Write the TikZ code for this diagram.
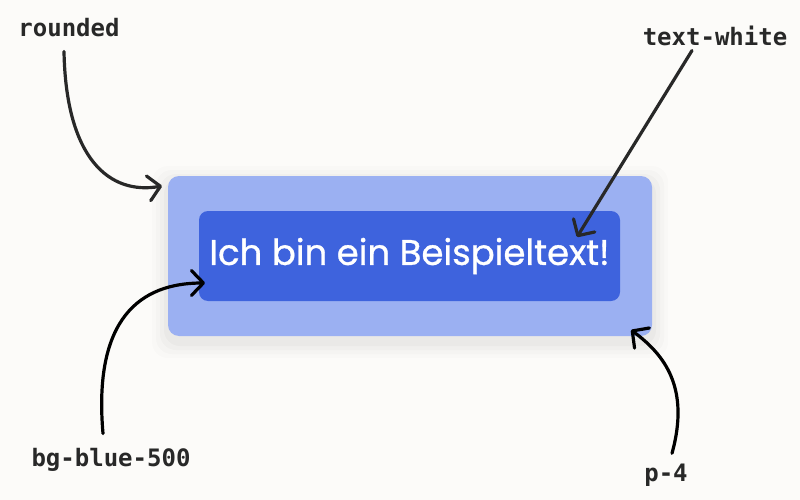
\documentclass[tikz,border=0pt]{standalone}
\usepackage{fontspec}
\setmonofont{DejaVu Sans Mono}
\newfontfamily\boxfont{Poppins}[FakeBold=0.9]
\usetikzlibrary{arrows.meta,positioning}
\definecolor{paper}{RGB}{252,251,249}
\definecolor{padblue}{RGB}{155,176,242}
\definecolor{blue500}{RGB}{62,99,221}
\definecolor{ink}{RGB}{40,40,40}

\begin{document}
\begin{tikzpicture}[
    x=1pt, y=-1pt,
    tag/.style={font=\ttfamily\bfseries\fontsize{24}{24}\selectfont, text=ink, inner sep=0pt, anchor=base},
    pointer/.style={line width=3.2pt, line cap=round, draw=#1,
        -{Straight Barb[length=12pt, width=25pt, line width=3.2pt, round]}},
    pointer/.default=ink,
    haze/.style={fill=black, fill opacity=#1, rounded corners=16pt}
]
% canvas
\fill[paper] (0,0) rectangle (800,500);
\useasboundingbox (0,0) rectangle (800,500);

% soft shadow
\foreach \s/\o in {16/0.012, 12/0.015, 8/0.02, 4/0.025}
    \fill[haze=\o] (168-\s,176-\s+6) rectangle (652+\s,336+\s+6);

% boxes
\node[fill=padblue, rounded corners=11pt, minimum width=484pt, minimum height=160pt]
      (pad) at (410,256) {};
\node[fill=blue500, rounded corners=9pt, minimum width=421pt, minimum height=90pt,
      text=white, font=\boxfont\fontsize{35.5}{35.5}\selectfont]
      (txt) at (409.5,256) {Ich bin ein Beispieltext!};

% labels
\node[tag] (rounded) at (69,37) {rounded};
\node[tag] (white) at (715,46) {text-white};
\node[tag] (bg) at (111,466) {bg-blue-500};
\node[tag] (p4) at (666,481) {p-4};

% arrows
\coordinate (aR) at (162,186);
\coordinate (aW) at (577,237);
\coordinate (aB) at (205,283);
\coordinate (aP) at (631,330);
\draw[pointer] ([xshift=-5pt, yshift=-14pt]rounded.south) .. controls +(2,108) and (110,195) .. (aR);
\draw[pointer] ([xshift=-23pt, yshift=-4pt]white.south) -- (aW);
\draw[pointer=black] ([xshift=-8pt, yshift=14pt]bg.north) .. controls +(-10,-115) and (140,283) .. (aB);
\draw[pointer=black] ([xshift=6pt, yshift=10pt]p4.north) .. controls +(18,-65) and (665,355) .. (aP);
\end{tikzpicture}
\end{document}
